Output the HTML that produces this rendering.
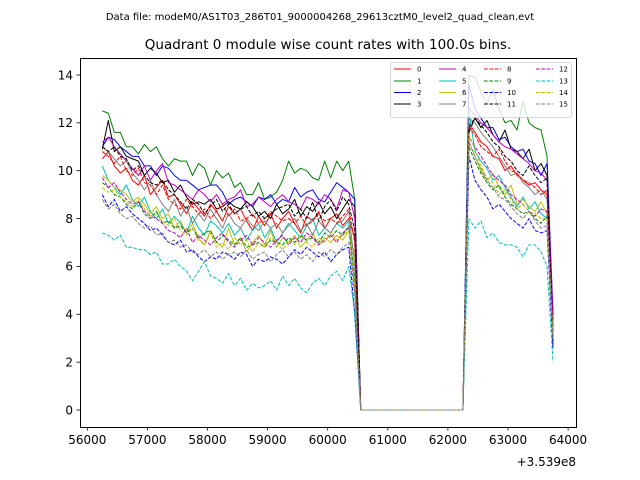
<!DOCTYPE html>
<html><head><meta charset="utf-8"><style>
body{margin:0;background:#fff;}
svg{display:block;font-family:"DejaVu Sans","Liberation Sans",sans-serif;}
</style></head><body>
<svg id="chart" width="640" height="480" viewBox="0 0 640 480">
<text x="320" y="20" text-anchor="middle" font-size="10">Data file: modeM0/AS1T03_286T01_9000004268_29613cztM0_level2_quad_clean.evt</text>
<text x="328" y="49" text-anchor="middle" font-size="13.5">Quadrant 0 module wise count rates with 100.0s bins.</text>
<g id="plot"></g>
<rect x="80.5" y="58.5" width="496" height="369" fill="none" stroke="#000" stroke-width="1"/>
<g id="xaxis"></g>
<g id="yaxis"></g>
<text x="576" y="466" text-anchor="end" font-size="12">+3.539e8</text>
<g id="legend"></g>
</svg>
<script>
const xTicks = [56000,57000,58000,59000,60000,61000,62000,63000,64000];
const yTicks = [0,2,4,6,8,10,12,14];
const startTime = 56250;
const binSize = 100;
const gap = [0,0,0,0,0,0,0,0,0,0,0,0,0,0,0,0,0,0];
const labels = ["0","1","2","3","4","5","6","7","8","9","10","11","12","13","14","15"];
const colors = ["#ff0000","#008000","#0000ff","#000000","#bf00bf","#00bfbf","#bfbf00","#808080","#ff0000","#008000","#0000ff","#000000","#bf00bf","#00bfbf","#bfbf00","#808080"];
const s0a=[10.5,10.8,10.2,9.9,10.1,9.6,9.4,9.8,9.0,9.3,9.6,8.9,9.0,8.6,8.2,8.7,8.4,8.1,8.6,8.3,7.9,8.5,8.2,8.4,7.9,7.5,8.1,7.7,8.2,7.6,8.0,8.3,7.8,7.4,8.1,7.9,8.3,7.6,8.0,8.2,7.7,8.0,7.2];
const s0b=[12.0,11.6,11.2,11.0,10.6,10.5,10.0,10.2,9.8,9.6,9.4,9.5,9.2,9.0,3.5];
const s1a=[12.5,12.4,11.6,11.6,11.0,11.0,10.7,11.1,10.8,11.0,10.5,10.2,10.5,10.4,10.4,9.8,10.3,10.1,9.4,10.0,9.7,9.9,9.3,9.5,9.0,9.0,9.5,8.8,8.9,9.1,9.6,10.4,9.9,10.1,10.0,9.7,9.6,10.4,9.7,10.4,10.0,10.4,8.8];
const s1b=[14.0,13.9,13.3,12.8,13.4,12.6,12.0,12.1,11.7,12.9,12.0,11.8,11.7,10.6,3.0];
const s2a=[11.0,11.4,11.3,11.0,10.8,10.6,10.6,10.2,10.2,9.8,10.2,10.1,9.8,9.6,9.6,9.4,9.2,9.3,9.4,9.4,9.1,8.6,8.8,8.9,8.7,8.5,8.9,8.8,9.0,8.6,8.8,8.7,9.3,8.9,9.1,9.2,8.8,8.7,9.1,9.5,9.3,9.1,8.8];
const s2b=[13.6,12.6,12.2,11.8,11.8,11.3,11.4,11.0,10.8,10.9,10.4,10.3,9.8,10.3,4.0];
const s3a=[10.9,12.1,10.8,11.0,10.6,10.5,10.4,9.8,10.1,9.9,9.5,9.6,9.1,9.4,8.9,8.6,8.7,8.6,8.8,8.4,8.5,8.7,8.5,8.4,8.7,8.5,8.1,8.3,8.0,8.6,8.2,8.4,8.8,8.1,8.5,8.3,8.7,8.2,8.5,8.0,8.4,8.8,8.5];
const s3b=[11.6,12.2,11.8,12.1,11.5,11.2,11.7,10.9,10.8,10.5,10.9,10.0,10.3,9.8,2.7];
const s4a=[11.2,11.4,11.0,10.7,10.4,10.1,9.8,10.2,9.6,10.0,10.3,9.5,9.4,9.2,9.0,8.8,9.2,9.0,8.7,9.0,8.6,8.8,8.9,9.2,8.5,8.6,8.9,8.7,8.5,8.8,9.0,8.7,8.6,8.4,8.9,8.8,8.6,9.0,8.8,8.4,9.2,9.1,8.0];
const s4b=[12.6,12.3,12.0,11.8,11.5,11.2,11.0,10.9,10.7,10.5,10.3,10.0,9.9,9.6,3.8];
const s5a=[10.2,9.6,9.3,9.0,9.4,8.8,8.5,8.9,8.3,8.0,8.4,7.8,8.1,7.8,7.4,8.1,7.6,7.3,7.9,7.7,7.4,7.8,7.3,7.6,7.1,7.5,7.8,7.2,7.6,7.0,7.4,7.8,7.5,7.2,7.7,8.0,7.3,7.6,7.4,7.8,7.6,7.9,5.0];
const s5b=[12.5,10.8,10.4,10.1,9.6,9.8,9.3,8.9,8.5,8.9,8.4,8.7,8.2,8.0,2.8];
const s6a=[9.8,9.6,9.3,9.2,9.0,8.7,8.9,8.6,8.2,8.5,8.0,8.2,7.6,7.9,7.4,7.8,7.2,6.9,7.5,7.0,6.8,7.6,6.9,7.2,6.6,7.0,7.3,6.9,7.5,6.8,7.2,7.0,7.3,6.8,7.1,7.4,6.9,7.2,7.0,7.3,7.1,7.5,6.5];
const s6b=[11.2,10.6,10.0,9.6,9.9,9.3,9.0,9.4,8.6,8.8,8.5,8.3,8.7,8.2,3.2];
const s7a=[11.0,10.8,10.5,10.2,10.4,9.9,9.6,9.2,9.6,9.0,8.6,8.3,8.8,8.1,8.5,7.8,8.2,7.9,8.4,8.0,7.6,8.2,7.8,7.6,8.0,7.7,7.5,7.9,7.6,7.8,7.4,7.7,8.0,7.5,7.8,7.3,7.9,7.6,7.4,7.8,7.9,8.3,6.0];
const s7b=[12.2,12.0,11.6,11.3,11.0,10.6,10.2,9.8,9.9,9.5,9.3,9.0,9.2,8.8,3.0];
const s8a=[10.8,10.6,10.3,10.6,10.0,9.8,10.1,9.5,9.4,9.0,9.4,8.8,8.6,8.4,8.8,8.5,8.2,8.4,8.0,8.3,8.6,8.1,8.4,7.9,8.0,8.2,7.8,8.0,8.3,8.1,7.9,8.0,7.8,8.1,7.7,7.9,8.2,7.9,8.0,7.8,8.1,8.4,7.0];
const s8b=[11.8,11.5,11.0,10.8,10.6,10.9,10.4,10.0,9.9,9.6,9.5,9.3,9.0,9.2,3.3];
const s9a=[9.5,9.3,9.0,8.9,8.6,8.4,8.7,8.2,8.0,8.3,7.8,7.9,7.6,7.7,7.4,7.6,7.2,7.4,7.5,7.0,7.3,7.1,6.9,7.2,6.8,6.9,7.0,6.8,7.1,7.0,6.9,7.2,7.0,7.3,7.1,7.2,7.0,7.4,7.2,7.5,7.3,7.7,5.5];
const s9b=[11.0,10.4,9.9,9.5,9.2,9.4,8.9,8.6,8.4,8.2,8.3,8.0,7.8,8.1,2.8];
const s10a=[9.0,8.5,8.8,8.3,8.5,8.2,8.0,7.8,7.5,7.6,7.3,7.0,6.9,7.1,6.6,6.7,6.4,6.2,6.4,6.3,6.6,6.5,6.3,6.6,6.5,6.0,6.3,6.2,6.4,6.3,6.1,6.4,6.7,6.5,6.8,6.6,6.4,6.6,6.2,6.5,6.7,6.8,4.0];
const s10b=[10.6,9.6,9.2,8.9,8.4,8.6,8.3,8.0,7.8,7.6,8.0,7.5,7.4,7.5,2.5];
const s11a=[11.0,10.8,11.0,10.6,10.5,10.0,10.2,9.8,9.5,9.4,9.6,9.2,9.0,8.7,8.4,8.8,8.6,8.2,8.5,8.8,8.3,8.6,8.2,8.4,8.5,8.1,8.3,8.0,8.2,8.4,8.5,8.6,8.1,8.4,8.0,8.7,7.9,8.5,8.8,8.3,8.9,8.6,7.5];
const s11b=[11.8,12.2,11.9,11.6,11.2,11.0,10.6,10.4,10.0,9.8,10.2,9.8,9.5,9.7,3.0];
const s12a=[9.7,9.3,9.5,9.1,8.8,8.6,8.7,8.3,8.1,8.0,7.8,7.5,7.4,7.2,7.6,7.0,7.3,7.1,6.9,7.2,7.4,7.0,6.8,7.1,7.3,6.9,7.2,7.0,6.8,7.1,7.3,6.9,7.2,7.0,7.4,7.2,6.9,7.1,7.3,7.0,7.4,7.6,5.0];
const s12b=[11.4,11.0,10.6,10.2,9.8,9.6,9.4,9.0,8.8,8.6,8.3,8.1,8.4,8.3,3.0];
const s13a=[7.4,7.3,7.1,7.3,6.8,6.8,6.7,6.7,6.5,6.6,6.1,6.1,6.3,6.0,5.8,5.4,5.8,6.2,5.6,5.5,5.3,5.7,5.2,5.5,5.0,5.3,5.1,5.2,5.4,5.0,5.6,5.2,5.5,5.1,4.9,5.3,5.5,5.2,5.6,5.8,5.4,6.0,4.0];
const s13b=[8.0,7.6,7.9,7.2,7.4,7.0,6.9,6.9,6.8,6.4,6.9,6.9,6.6,6.0,2.0];
const s14a=[9.3,9.1,9.2,8.9,8.7,8.5,8.8,8.4,8.1,8.2,7.9,7.7,8.0,7.5,7.3,7.6,7.1,6.9,7.4,6.8,7.0,6.7,7.2,6.9,7.1,6.6,7.0,6.8,7.2,7.0,6.7,7.1,6.9,7.3,7.0,6.8,7.2,7.0,7.4,7.1,7.3,7.5,5.2];
const s14b=[11.5,10.9,10.2,9.7,9.5,9.0,9.2,8.8,8.4,8.6,8.3,8.2,8.0,8.0,3.0];
const s15a=[8.8,8.4,8.6,8.2,8.0,8.1,7.8,7.6,7.7,7.3,7.4,7.0,7.1,6.8,6.9,6.6,6.5,6.7,6.4,6.6,6.3,6.5,6.6,6.4,6.7,6.3,6.5,6.6,6.2,6.5,6.7,6.4,6.6,6.3,6.5,6.2,6.6,6.4,6.7,6.5,6.8,7.0,4.8];
const s15b=[11.2,10.6,10.1,9.6,9.3,8.9,8.8,8.5,8.2,8.0,8.3,7.9,7.6,7.7,3.0];

const firstParts=[s0a,s1a,s2a,s3a,s4a,s5a,s6a,s7a,s8a,s9a,s10a,s11a,s12a,s13a,s14a,s15a];
const secondParts=[s0b,s1b,s2b,s3b,s4b,s5b,s6b,s7b,s8b,s9b,s10b,s11b,s12b,s13b,s14b,s15b];

const NS="http://www.w3.org/2000/svg";
function xScale(v){return 87.3+(v-56000)*0.0601;}
function yScale(v){return 410-v*23.93;}
function mk(tag,attrs,parent){const e=document.createElementNS(NS,tag);for(const k in attrs)e.setAttribute(k,attrs[k]);parent.appendChild(e);return e;}

const plot=document.getElementById('plot');
firstParts.forEach((a,i)=>{
  const vals=a.concat(gap,secondParts[i]);
  const pts=vals.map((v,j)=>xScale(startTime+j*binSize).toFixed(2)+","+yScale(v).toFixed(2)).join(" ");
  const attrs={points:pts,fill:"none",stroke:colors[i],"stroke-width":1,"stroke-linejoin":"round"};
  if(i>=8)attrs["stroke-dasharray"]="3.7,1.6";
  const pl=mk('polyline',attrs,plot);
  
  
});

const xa=document.getElementById('xaxis');
xTicks.forEach(t=>{
  const x=xScale(t);
  const tk=mk('line',{x1:x,x2:x,y1:427,y2:430.5,stroke:"#000","stroke-width":0.8},xa);
  
  
  const tx=mk('text',{x:x,y:444,"text-anchor":"middle","font-size":12},xa);
  tx.textContent=t;
  
  
});
const ya=document.getElementById('yaxis');
yTicks.forEach(t=>{
  const y=yScale(t);
  const tk=mk('line',{x1:76.5,x2:80,y1:y,y2:y,stroke:"#000","stroke-width":0.8},ya);
  
  
  const tx=mk('text',{x:73,y:y+4.3,"text-anchor":"end","font-size":12},ya);
  tx.textContent=t;
  
  
});

const lg=document.getElementById('legend');
const box=mk('rect',{x:390.5,y:62.5,width:181,height:55,rx:2,fill:"#fff","fill-opacity":0.8,stroke:"#ccc","stroke-width":0.8},lg);


const colX=[394,439,484,536];
const rowY=[69,81,92.5,104];
labels.forEach((lab,i)=>{
  const c=Math.floor(i/4), r=i%4;
  const g=mk('g',{},lg);
  
  
  const la={x1:colX[c],x2:colX[c]+17,y1:rowY[r],y2:rowY[r],stroke:colors[i],"stroke-width":1};
  if(i>=8)la["stroke-dasharray"]="3.7,1.6";
  mk('line',la,g);
  const tx=mk('text',{x:colX[c]+23,y:rowY[r]+2.5,"font-size":7},g);
  tx.textContent=lab;
});
</script>
</body></html>
